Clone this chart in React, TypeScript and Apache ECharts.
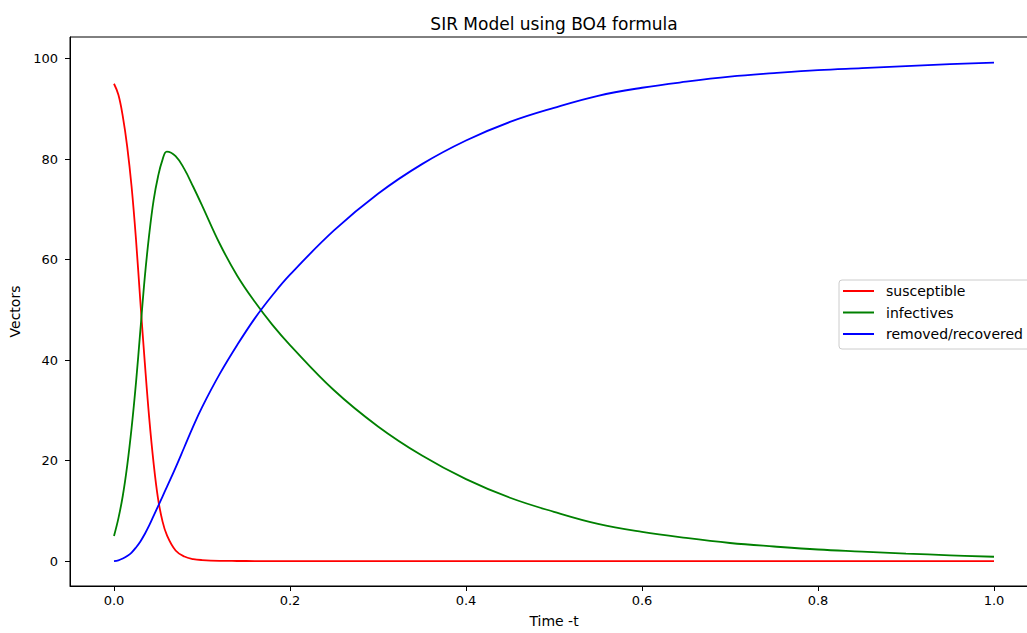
import React, { useEffect, useRef } from "react";
import * as echarts from "echarts";

const time = [
  0, 0.005, 0.01, 0.015, 0.02, 0.025, 0.03, 0.035, 0.04, 0.045, 0.05, 0.055, 0.06,
  0.07, 0.08, 0.09, 0.1, 0.12, 0.14, 0.16, 0.18, 0.2, 0.25, 0.3, 0.35, 0.4, 0.45,
  0.5, 0.55, 0.6, 0.65, 0.7, 0.75, 0.8, 0.85, 0.9, 0.95, 1.0,
];
const susceptible = [
  95, 92.8, 88.5, 82.5, 74.5, 64, 51.5, 39.5, 28.5, 19.5, 12.5, 8, 5.2,
  2.1, 0.9, 0.4, 0.2, 0.05, 0.02, 0.01, 0, 0, 0, 0, 0, 0, 0,
  0, 0, 0, 0, 0, 0, 0, 0, 0, 0, 0,
];
const infectives = [
  5, 8.5, 13, 19, 26.5, 35.5, 46, 56.5, 65, 71.8, 76.5, 79.8, 81.5,
  80.6, 78, 74.5, 70.8, 63.2, 56.8, 51.6, 47, 43, 34, 26.8, 21, 16.3, 12.6,
  9.8, 7.4, 5.8, 4.6, 3.6, 2.9, 2.3, 1.9, 1.5, 1.15, 0.86,
];
const recovered = [
  0, 0.15, 0.5, 1.0, 1.7, 2.7, 3.9, 5.4, 7.1, 9, 10.9, 12.8, 14.7,
  18.6, 22.7, 26.8, 30.6, 37.2, 43, 48.3, 52.9, 57.0, 65.8, 73.1, 79, 83.7, 87.4,
  90.2, 92.6, 94.2, 95.4, 96.4, 97.1, 97.7, 98.1, 98.5, 98.9, 99.2,
];
const xTicks = [0, 0.2, 0.4, 0.6, 0.8, 1.0];
const yTicks = [0, 20, 40, 60, 80, 100];

const FONT = "DejaVu Sans";

export default function App() {
  const ref = useRef<HTMLDivElement>(null);
  useEffect(() => {
    if (!ref.current) return;
    const chart = echarts.init(ref.current, null, { renderer: "svg" });
    const pairs = (ys: number[]) => time.map((t, i) => [t, ys[i]]);
    const mkSeries = (name: string, ys: number[], color: string) => ({
      name,
      type: "line",
      data: pairs(ys),
      showSymbol: false,
      smooth: 0.4,
      lineStyle: { color, width: 1.8 },
      itemStyle: { color },
    });
    chart.setOption({
      animation: false,
      backgroundColor: "#ffffff",
      title: {
        text: "SIR Model using BO4 formula",
        left: "center",
        top: 10,
        textStyle: { fontFamily: FONT, fontSize: 17, fontWeight: "normal", color: "#000" },
      },
      grid: {
        left: 70,
        top: 37,
        width: 968,
        height: 553,
        show: true,
        borderColor: "#000",
        borderWidth: 1,
        backgroundColor: "transparent",
      },
      legend: {
        orient: "vertical",
        left: 839,
        top: 280,
        icon: "rect",
        itemWidth: 31,
        itemHeight: 2,
        itemGap: 5.5,
        padding: [3, 60, 7, 4],
        borderColor: "#cccccc",
        borderWidth: 1,
        borderRadius: 3,
        backgroundColor: "rgba(255,255,255,0.8)",
        textStyle: {
          fontFamily: FONT,
          fontSize: 14,
          color: "#000",
          lineHeight: 16,
          padding: [0, 0, 0, 7],
        },
        data: ["susceptible", "infectives", "removed/recovered"],
      },
      xAxis: {
        type: "value",
        min: -0.05,
        max: 1.05,
        name: "Time -t",
        nameLocation: "middle",
        nameGap: 28,
        nameTextStyle: { fontFamily: FONT, fontSize: 14, color: "#000" },
        axisLine: { show: true, onZero: false, lineStyle: { color: "#000", width: 1 } },
        axisTick: { show: true, inside: false, length: 5, customValues: xTicks, lineStyle: { color: "#000" } },
        axisLabel: {
          customValues: xTicks,
          margin: 8,
          fontFamily: FONT,
          fontSize: 13,
          color: "#000",
          formatter: (v: number) => v.toFixed(1),
        },
        splitLine: { show: false },
      },
      yAxis: {
        type: "value",
        min: -4.96,
        max: 104.3,
        name: "Vectors",
        nameLocation: "middle",
        nameGap: 47,
        nameTextStyle: { fontFamily: FONT, fontSize: 14, color: "#000" },
        axisLine: { show: true, onZero: false, lineStyle: { color: "#000", width: 1 } },
        axisTick: { show: true, inside: false, length: 5, customValues: yTicks, lineStyle: { color: "#000" } },
        axisLabel: {
          customValues: yTicks,
          margin: 12,
          fontFamily: FONT,
          fontSize: 13,
          color: "#000",
          formatter: (v: number) => String(Math.round(v)),
        },
        splitLine: { show: false },
      },
      series: [
        mkSeries("susceptible", susceptible, "#ff0000"),
        mkSeries("infectives", infectives, "#008000"),
        mkSeries("removed/recovered", recovered, "#0000ff"),
      ],
    });
    return () => chart.dispose();
  }, []);
  return (
    <div
      ref={ref}
      style={{ position: "fixed", left: 0, top: 0, width: 1108, height: 633 }}
    />
  );
}
